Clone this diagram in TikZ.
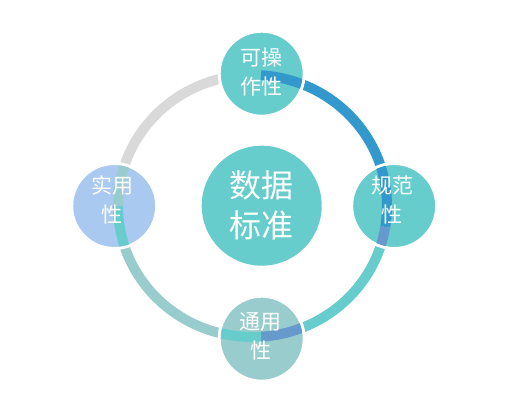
\documentclass[tikz,border=0pt]{standalone}
\usepackage{fontspec}
\setmainfont{Noto Sans CJK SC}
\definecolor{tealc}{RGB}{102,204,204}
\definecolor{greyteal}{RGB}{153,204,204}
\definecolor{skyc}{RGB}{169,201,240}
\definecolor{bluec}{RGB}{51,153,204}
\definecolor{mixc}{RGB}{102,153,204}
\definecolor{greyc}{RGB}{217,217,217}
\newcommand{\seg}[3]{\draw[band,#1] ([shift={(#2:134.5 and 131)}]o) arc[start angle=#2, end angle=#3, x radius=134.5, y radius=131];}

\begin{document}
\begin{tikzpicture}[x=1pt, y=1pt,
		band/.style={line width=10pt},
		ball/.style={circle, draw=white, line width=3pt, minimum size=85pt, inner sep=0pt},
		lbl/.style={text=white, align=center, font=\fontsize{21}{28.5}\selectfont}]
		\useasboundingbox (0,0) rectangle (507,404);
		\coordinate (o) at (252.5,198);
		% ring
		\seg{bluec}{0}{90}
		\seg{greyc}{90}{180}
		\seg{greyteal}{180}{270}
		\seg{tealc}{270}{360}
		% circles
		\node[circle, fill=tealc, minimum size=120pt, inner sep=0pt] (c) at (261.7,198.3) {};
		\node[ball, fill=tealc] (t) at (261.7,330.3) {};
		\node[ball, fill=tealc] (r) at (394.2,198) {};
		\node[ball, fill=greyteal] (b) at (261.7,65.3) {};
		\node[ball, fill=skyc] (l) at (114.2,198) {};
		% band inside the circles
		\begin{scope}
		\clip (t.center) circle[radius=41];
		\seg{bluec}{30}{86.4}
		\end{scope}
		\begin{scope}
		\clip (r.center) circle[radius=41];
		\seg{bluec}{40}{-9.2}
		\seg{mixc}{-9.2}{-40}
		\end{scope}
		\begin{scope}
		\clip (b.center) circle[radius=41];
		\seg{mixc}{-40}{-86.4}
		\seg{tealc}{-86.4}{-140}
		\end{scope}
		\begin{scope}
		\clip (l.center) circle[radius=41];
		\seg{tealc}{220}{180}
		\seg{greyteal}{180}{140}
		\end{scope}
		% texts
		\node[lbl, font=\fontsize{32}{40}\selectfont] (ct) at (c) {数据\\标准};
		\node[lbl] (tt) at (261.7,332) {可操\\作性};
		\node[lbl] (rt) at (392,204) {规范\\性};
		\node[lbl] (bt) at (260.5,67.5) {通用\\性};
		\node[lbl] (lt) at (112,204) {实用\\性};
		\end{tikzpicture}
\end{document}
